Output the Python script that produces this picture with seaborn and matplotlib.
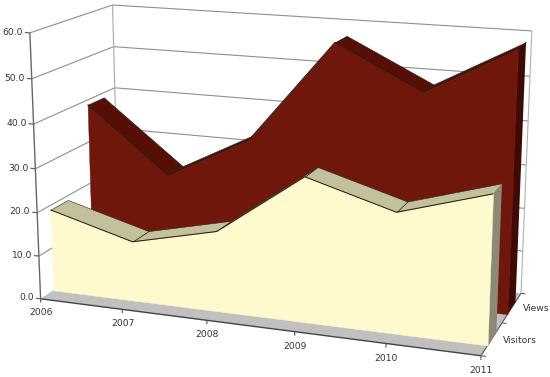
import numpy as np
import matplotlib
matplotlib.use("Agg")
import matplotlib.pyplot as plt
import seaborn as sns
from mpl_toolkits.mplot3d import proj3d
from mpl_toolkits.mplot3d.art3d import Poly3DCollection

years = [2006, 2007, 2008, 2009, 2010, 2011]
visitors = [19.0, 13.7, 18.2, 32.3, 26.6, 32.5]
views = [38.9, 23.9, 34.0, 57.4, 47.9, 58.6]
series_names = ["Visitors", "Views"]
value_ticks = [0, 10, 20, 30, 40, 50, 60]

# camera calibration: (year, depth, value) -> reference pixel
CAL = [
    (2006, 0, 60, 30, 33), (2006, 0, 30, 35.5, 168), (2006, 0, 0, 41, 298),
    (2007, 0, 0, 122, 310), (2008, 0, 0, 207, 321), (2009, 0, 0, 294, 332.5),
    (2010, 0, 0, 386, 343.5), (2011, 0, 0, 481, 355),
    (2006, 1, 60, 112, 5), (2006, 1, 40, 115, 88),
    (2011, 1, 60, 532, 31), (2011, 1, 30, 526.5, 165), (2011, 1, 0, 521, 293),
]

sns.set_theme(style="white")
W, H = 550, 377
fig = plt.figure(figsize=(W / 100, H / 100), dpi=100, facecolor="white")
ax = fig.add_axes([0, 0, 1, 1], projection="3d", computed_zorder=False)
ax.apply_aspect = lambda position=None: None
ax.set_axis_off()
ax.set_proj_type("ortho")


def camera():
    inv = ax.transData.inverted()
    rows = []
    for x, y, z, px, py in CAL:
        u, v = inv.transform((px, H - py))
        p = [x - 2006, y, z, 1]
        rows.append(p + [0, 0, 0, 0] + [-u * c for c in p])
        rows.append([0, 0, 0, 0] + p + [-v * c for c in p])
    P = np.linalg.svd(np.array(rows, float))[2][-1].reshape(3, 4)
    # the data year axis is offset so that it starts at 0
    shift = np.eye(4)
    shift[0, 3] = -2006
    M = np.vstack([P[0], P[1], [0, 1, 0, 0], P[2]])
    return M @ shift


ax.get_proj = camera
ax.set_xlim(2006, 2011)
ax.set_ylim(0, 1)
ax.set_zlim(0, 60)

GRID = "#8f8f8c"
TXT = "#333333"
x0, x1 = years[0], years[-1]


def face(xs, ys, zs, fc, ec="none", lw=0.0, zo=1):
    verts = np.column_stack([xs, ys, zs])
    pc = Poly3DCollection([verts], facecolors=fc, edgecolors=ec, linewidths=lw, zorder=zo)
    pc.set_clip_on(False)
    ax.add_collection3d(pc, autolim=False)


def line(xs, ys, zs, c=GRID, lw=0.8, zo=0.5):
    ax.plot(xs, ys, zs, color=c, lw=lw, zorder=zo, clip_on=False, solid_capstyle="butt")


def label(x, y, z, s, **kw):
    # place 2D text at the projected position of a 3D anchor
    u, v, _ = proj3d.proj_transform(x, y, z, camera())
    ax.text2D(float(u), float(v), s, transform=ax.transData, fontsize=6.6, color=TXT,
              zorder=6, clip_on=False, **kw)


# walls
for v in value_ticks[1:]:
    line([x0, x0, x1], [0, 1, 1], [v, v, v])
line([x0, x0], [1, 1], [0, 60], c="#a8a8a8")
line([x1, x1], [1, 1], [0, 60], c="#b0b0b0")
line([x0, x0], [0, 0], [0, 60], c="#666666", lw=1.0, zo=0.6)

# floor
face([x0, x1, x1, x0], [0, 0, 1, 1], [0, 0, 0, 0], "#c0c0c0", zo=1)
line([x0, x1], [0, 0], [0, 0], c="#444444", lw=1.0, zo=1.2)
line([x1, x1], [0, 1], [0, 0], c="#555555", lw=0.8, zo=1.2)


def area(vals, y_front, y_back, front, top, side, zo):
    n = len(years)
    for i in range(n - 1):
        face([years[i], years[i + 1], years[i + 1], years[i]],
             [y_front, y_front, y_back, y_back],
             [vals[i], vals[i + 1], vals[i + 1], vals[i]],
             top, ec="#2a2418", lw=0.4, zo=zo)
    face([x1, x1, x1, x1], [y_front, y_back, y_back, y_front],
         [0, 0, vals[-1], vals[-1]], side, zo=zo + 0.1)
    xs = [x0] + years + [x1]
    zs = [0] + list(vals) + [0]
    face(xs, [y_front] * len(xs), zs, front, ec=front, lw=0.3, zo=zo + 0.2)
    line(years, [y_front] * n, vals, c="#2a1a10", lw=0.7, zo=zo + 0.3)


area(views, 0.64, 0.85, "#70170b", "#560f05", "#3f0a03", 2)
area(visitors, 0.15, 0.36, "#fffacd", "#c3c09c", "#8c8a76", 3)

# value axis ticks and labels
for v in value_ticks:
    line([x0 - 0.06, x0], [0, 0], [v, v], c="#666666", lw=0.9, zo=5)
    label(x0 - 0.085, 0, v, f"{v:.1f}", ha="right", va="center")

# year ticks and labels
for yr in years:
    line([yr, yr], [0, 0], [0, -0.9], c="#555555", lw=0.8, zo=5)
    label(yr, 0, -3.3, str(yr), ha="center", va="center")

# series ticks and labels
for d in [0, 0.5, 1]:
    line([x1, x1 + 0.05], [d, d], [0, 0], c="#666666", lw=0.8, zo=5)
for name, d in zip(series_names, [0.25, 0.75]):
    label(x1 + 0.12, d, 0, name, ha="left", va="center")

fig.savefig("out.png", dpi=100, facecolor="white")
